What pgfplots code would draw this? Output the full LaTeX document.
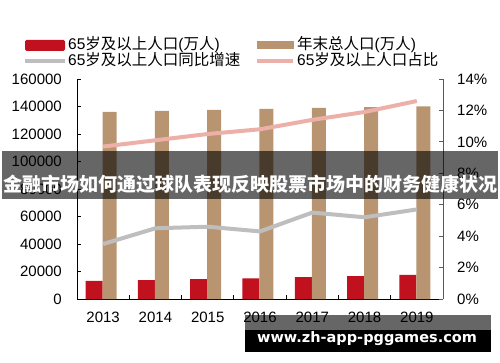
\documentclass[border=0pt]{standalone}
\usepackage{pgfplots}
\pgfplotsset{compat=1.18}
\usepackage{pgfplotstable}
\usepackage{fontspec}
\setmainfont{Liberation Sans}
\newfontfamily\cjk{Noto Sans CJK SC}
\newfontfamily\wm{DejaVu Sans}
\definecolor{redbar}{RGB}{193,16,30}
\definecolor{tanbar}{RGB}{184,149,112}
\definecolor{grayline}{RGB}{190,190,190}
\definecolor{pinkline}{RGB}{236,176,168}
\pgfplotstableread{
x year pop65 total growth share
0 2013 13161 136072 3.5 9.7
1 2014 13755 136782 4.5 10.1
2 2015 14386 137462 4.6 10.5
3 2016 15003 138271 4.3 10.8
4 2017 15831 139008 5.5 11.4
5 2018 16658 139538 5.2 11.9
6 2019 17603 140005 5.7 12.6
}\data
\begin{document}
\begin{tikzpicture}[x=1pt,y=1pt]
\path (0,0) rectangle (500,362);
\pgfplotsset{
  common/.style={
    at={(77pt,63pt)}, anchor=south west, scale only axis,
    width=366pt, height=220pt,
    xmin=-0.5, xmax=6.5,
    tick align=inside, major tick length=4pt,
    /pgf/number format/fixed,
    /pgf/number format/1000 sep={},
    /pgf/number format/assume math mode=true,
    tick label style={font=\fontsize{15}{15}\selectfont},
  }
}
\begin{axis}[common,
  ymin=0, ymax=160000,
  axis x line*=bottom, axis y line*=left,
  axis line style={black, line width=0.8pt},
  ytick={0,20000,...,160000}, scaled y ticks=false,
  yticklabel style={anchor=east, inner sep=0pt, xshift=-15pt},
  xtick={0.5,1.5,...,5.5}, xticklabels={},
  tick style={black, line width=0.8pt},
]
\addplot[ybar, bar width=17pt, bar shift=-9pt, fill=redbar, draw=none] table[x=x, y=pop65]{\data};
\addplot[ybar, bar width=14pt, bar shift=6.5pt, fill=tanbar, draw=none] table[x=x, y=total]{\data};
\end{axis}
\begin{axis}[common,
  ymin=0, ymax=14,
  axis x line*=bottom, axis y line*=right,
  x axis line style={draw=none},
  y axis line style={black!65, line width=0.8pt},
  ytick={0,2,...,14},
  yticklabel={\pgfmathprintnumber{\tick}\%},
  yticklabel style={anchor=west, inner sep=0pt, xshift=14pt},
  ytick style={black!65, line width=0.8pt},
  xtick={0,...,6}, xticklabels={2013,2014,2015,2016,2017,2018,2019},
  xtick style={draw=none},
  xticklabel style={anchor=north, inner sep=0pt, yshift=-13pt},
]
\addplot[grayline, line width=4pt] table[x=x, y=growth]{\data};
\addplot[pinkline, line width=4pt] table[x=x, y=share]{\data};
\end{axis}
% legend
\fill[redbar, rounded corners=1.5pt] (25,311) rectangle (65,322);
\fill[tanbar] (257,313) rectangle (294,321);
\draw[grayline, line width=4pt] (25,301) -- (65,301);
\draw[pinkline, line width=4pt] (257,301) -- (293,301);
\begin{scope}[every node/.style={inner sep=0pt, anchor=base west, font=\fontsize{15.5}{15.5}\selectfont}]
\node at (68,312) {65{\cjk 岁及以上人口}({\cjk 万人})};
\node at (68,296) {65{\cjk 岁及以上人口同比增速}};
\node at (297,312) {{\cjk 年末总人口}({\cjk 万人})};
\node at (297,296) {65{\cjk 岁及以上人口占比}};
\end{scope}
% banner overlay
\fill[black, opacity=0.6] (2,163) rectangle (498,211);
\node[anchor=base, inner sep=0pt, text=white, font=\fontsize{19}{19}\selectfont] at (250,171) {\cjk\bfseries 金融市场如何通过球队表现反映股票市场中的财务健康状况};
% watermark
\fill[black, opacity=0.6] (245,32) rectangle (491,47);
\fill[black] (245,10) rectangle (491,32);
\node[anchor=base, inner sep=0pt, text=white, font=\wm\bfseries\fontsize{14.5}{14.5}\selectfont] at (367,20) {www.zh-app-pggames.com};
\end{tikzpicture}
\end{document}
